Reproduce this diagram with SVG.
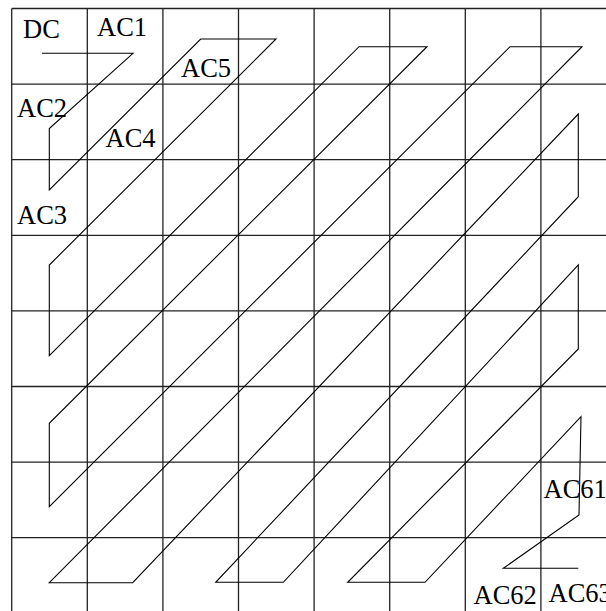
<svg xmlns="http://www.w3.org/2000/svg" width="606" height="611" viewBox="0 0 606 611">
<style>
.grid line{stroke:#222;stroke-width:1.3}
.zz{fill:none;stroke:#000;stroke-width:1.1;stroke-linejoin:miter}
text{font-family:"Liberation Serif","Times New Roman",serif;font-size:26.5px;fill:#000}
</style>
<rect x="0" y="0" width="606" height="611" fill="#fff"/>
<g id="grid" class="grid">
<line x1="11.7" y1="8.5" x2="11.7" y2="611"/>
<line x1="87.3" y1="8.5" x2="87.3" y2="611"/>
<line x1="162.9" y1="8.5" x2="162.9" y2="611"/>
<line x1="238.5" y1="8.5" x2="238.5" y2="611"/>
<line x1="314.1" y1="8.5" x2="314.1" y2="611"/>
<line x1="389.7" y1="8.5" x2="389.7" y2="611"/>
<line x1="465.3" y1="8.5" x2="465.3" y2="611"/>
<line x1="540.9" y1="8.5" x2="540.9" y2="611"/>
<line x1="11.7" y1="8.5" x2="606" y2="8.5"/>
<line x1="11.7" y1="84.1" x2="606" y2="84.1"/>
<line x1="11.7" y1="159.7" x2="606" y2="159.7"/>
<line x1="11.7" y1="235.3" x2="606" y2="235.3"/>
<line x1="11.7" y1="310.9" x2="606" y2="310.9"/>
<line x1="11.7" y1="386.5" x2="606" y2="386.5"/>
<line x1="11.7" y1="462.1" x2="606" y2="462.1"/>
<line x1="11.7" y1="537.7" x2="606" y2="537.7"/>
</g>
<g id="connectors">
<polyline class="zz" points="42,53.3 133,53.3 49.3,128.5 49.3,190 200.7,39 276,39 49.3,265 49.3,355.7 359,46.7 427,46.7 49.3,423.3 49.3,506.7 510,46.7 582,46.7 49.3,582.7 132.7,582.7 578.3,114 578.3,196.7 215.7,582.3 283.3,582.3 578.3,265 578.3,349 347.7,582.3 425,582.3 581,416.7 579,515 503.3,568.3 578.3,568.3"/>
</g>
<g id="labels">
<text id="DC" x="23" y="38.3">DC</text>
<text id="AC1" x="97" y="35.7">AC1</text>
<text id="AC5" x="181" y="76.7">AC5</text>
<text id="AC2" x="17" y="116.7">AC2</text>
<text id="AC4" x="105.5" y="146.7">AC4</text>
<text id="AC3" x="17" y="224.3">AC3</text>
<text id="AC61" x="543.5" y="497.7">AC61</text>
<text id="AC62" x="473.5" y="604">AC62</text>
<text id="AC63" x="548.5" y="602.3">AC63</text>
</g>
</svg>
